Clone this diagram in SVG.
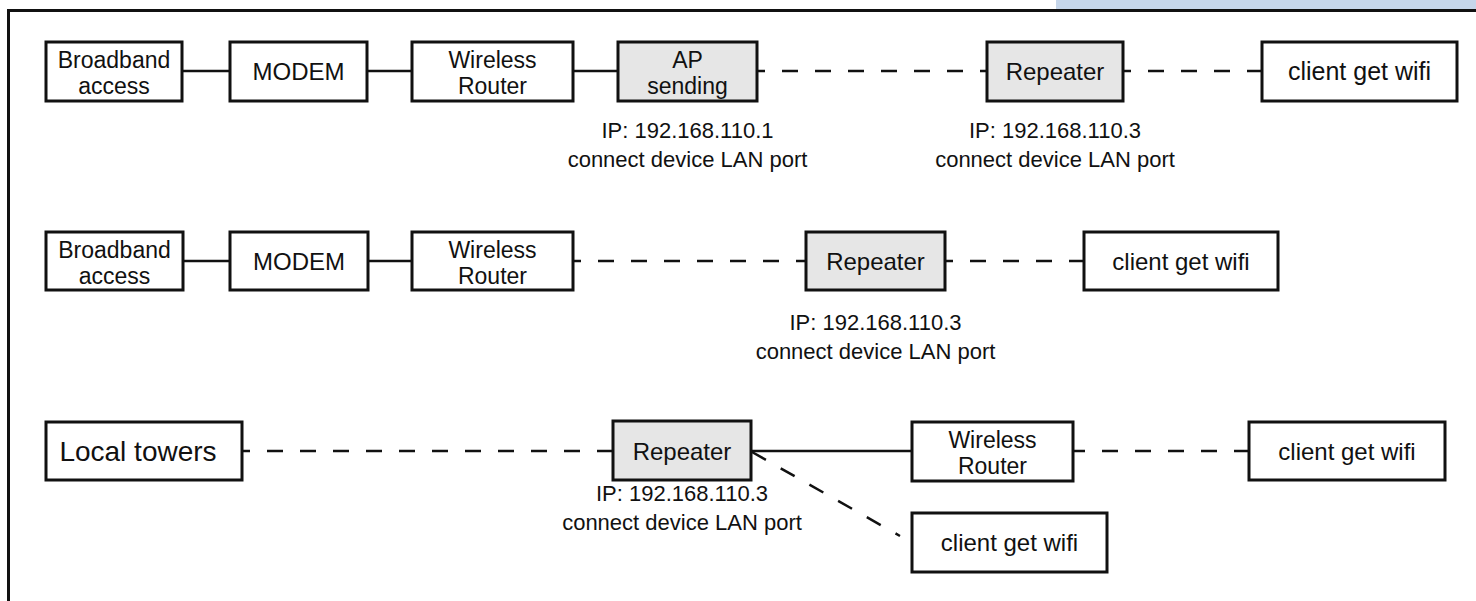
<svg xmlns="http://www.w3.org/2000/svg" width="1476" height="601" viewBox="0 0 1476 601">
<style>
  .box{fill:#fff;stroke:#111;stroke-width:3}
  .gray{fill:#e6e6e6;stroke:#111;stroke-width:3}
  .t{font-family:"Liberation Sans",Arial,sans-serif;font-size:24px;fill:#111;text-anchor:middle}
  .t2{font-family:"Liberation Sans",Arial,sans-serif;font-size:23px;fill:#111;text-anchor:middle}
  .lbl{font-family:"Liberation Sans",Arial,sans-serif;font-size:22px;fill:#111;text-anchor:middle}
  .solid{stroke:#111;stroke-width:2.5;fill:none}
  .dash{stroke:#111;stroke-width:2.5;fill:none;stroke-dasharray:16 17}
</style>
<rect x="1056" y="0" width="420" height="9" fill="#c6d6ea"/>
<path d="M8.5 601 V10.5 H1476" fill="none" stroke="#111" stroke-width="3"/>

<g id="connectors">
  <line class="solid" x1="182" y1="71" x2="230" y2="71"/>
  <line class="solid" x1="367" y1="71" x2="412" y2="71"/>
  <line class="solid" x1="573" y1="71" x2="618" y2="71"/>
  <line class="dash" x1="757" y1="71" x2="987" y2="71" stroke-dashoffset="8"/>
  <line class="dash" x1="1123" y1="71" x2="1262" y2="71" stroke-dashoffset="8"/>

  <line class="solid" x1="183" y1="261" x2="230" y2="261"/>
  <line class="solid" x1="368" y1="261" x2="412" y2="261"/>
  <line class="dash" x1="573" y1="261" x2="806" y2="261" stroke-dashoffset="8"/>
  <line class="dash" x1="945" y1="261" x2="1084" y2="261" stroke-dashoffset="8"/>

  <line class="dash" x1="242" y1="451" x2="613" y2="451" stroke-dashoffset="8"/>
  <line class="solid" x1="751" y1="451" x2="912" y2="451"/>
  <line class="dash" x1="1073" y1="451" x2="1249" y2="451" stroke-dashoffset="4"/>
  <line class="dash" x1="752" y1="452" x2="900" y2="536"/>
</g>

<g id="r1-broadband"><rect class="box" x="46" y="42" width="136" height="59"/><text class="t2" x="114" y="68">Broadband</text><text class="t2" x="114" y="94">access</text></g>
<g id="r1-modem"><rect class="box" x="230" y="42" width="137" height="59"/><text class="t" x="298.5" y="80">MODEM</text></g>
<g id="r1-router"><rect class="box" x="412" y="42" width="161" height="59"/><text class="t2" x="492.5" y="68">Wireless</text><text class="t2" x="492.5" y="94">Router</text></g>
<g id="r1-ap"><rect class="gray" x="618" y="42" width="139" height="59"/><text class="t2" x="687.5" y="68">AP</text><text class="t2" x="687.5" y="94">sending</text>
  <text class="lbl" x="687.5" y="138">IP: 192.168.110.1</text><text class="lbl" x="687.5" y="167">connect device LAN port</text></g>
<g id="r1-repeater"><rect class="gray" x="987" y="42" width="136" height="59"/><text class="t" x="1055" y="80">Repeater</text>
  <text class="lbl" x="1055" y="138">IP: 192.168.110.3</text><text class="lbl" x="1055" y="167">connect device LAN port</text></g>
<g id="r1-client"><rect class="box" x="1262" y="42" width="195" height="59"/><text class="t" x="1359.5" y="80" style="font-size:25px">client get wifi</text></g>

<g id="r2-broadband"><rect class="box" x="46" y="232" width="137" height="58"/><text class="t2" x="114.5" y="258">Broadband</text><text class="t2" x="114.5" y="284">access</text></g>
<g id="r2-modem"><rect class="box" x="230" y="232" width="138" height="58"/><text class="t" x="299" y="270">MODEM</text></g>
<g id="r2-router"><rect class="box" x="412" y="232" width="161" height="58"/><text class="t2" x="492.5" y="258">Wireless</text><text class="t2" x="492.5" y="284">Router</text></g>
<g id="r2-repeater"><rect class="gray" x="806" y="232" width="139" height="58"/><text class="t" x="875.5" y="270">Repeater</text>
  <text class="lbl" x="875.5" y="330">IP: 192.168.110.3</text><text class="lbl" x="875.5" y="359">connect device LAN port</text></g>
<g id="r2-client"><rect class="box" x="1084" y="232" width="194" height="58"/><text class="t" x="1181" y="270">client get wifi</text></g>

<g id="r3-towers"><rect class="box" x="46" y="422" width="196" height="58"/><text class="t" x="138" y="461" style="font-size:28px">Local towers</text></g>
<g id="r3-repeater"><rect class="gray" x="613" y="421" width="138" height="59"/><text class="t" x="682" y="460">Repeater</text>
  <text class="lbl" x="682" y="501">IP: 192.168.110.3</text><text class="lbl" x="682" y="530">connect device LAN port</text></g>
<g id="r3-router"><rect class="box" x="912" y="422" width="161" height="59"/><text class="t2" x="992.5" y="448">Wireless</text><text class="t2" x="992.5" y="474">Router</text></g>
<g id="r3-client"><rect class="box" x="1249" y="422" width="196" height="58"/><text class="t" x="1347" y="460">client get wifi</text></g>
<g id="r3-client2"><rect class="box" x="912" y="513" width="195" height="59"/><text class="t" x="1009.5" y="551">client get wifi</text></g>
</svg>
